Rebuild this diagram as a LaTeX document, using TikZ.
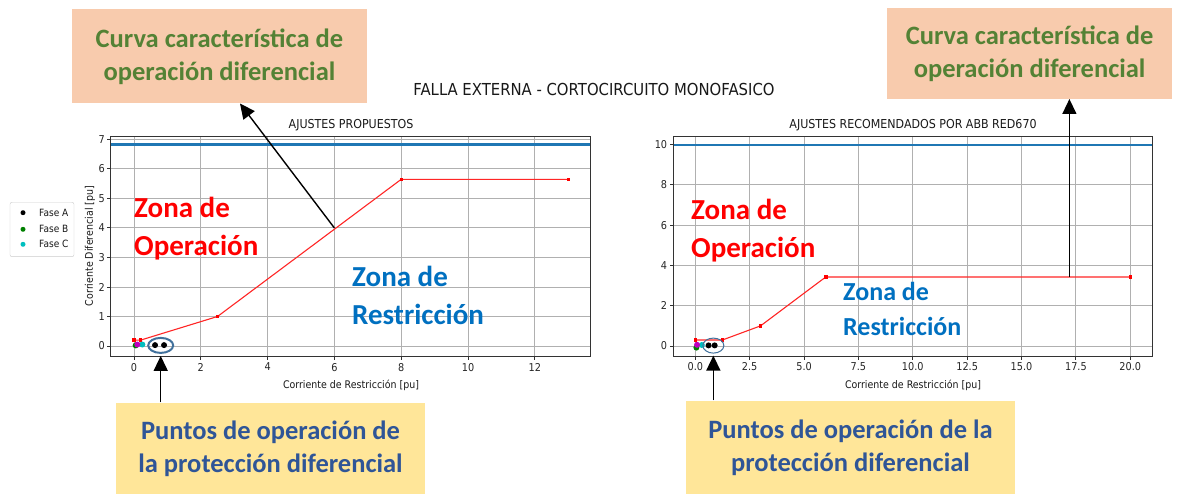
\documentclass[tikz,border=0pt]{standalone}
\usepackage{fontspec}
\usetikzlibrary{arrows.meta,calc,shapes.geometric}
\newfontfamily\mplfont[FakeStretch=0.9]{DejaVu Sans}
\newfontfamily\califont{Carlito}
\definecolor{peach}{HTML}{F8CBAD}
\definecolor{ylw}{HTML}{FFE699}
\definecolor{grn}{HTML}{548235}
\definecolor{dkblue}{HTML}{2F5597}
\definecolor{zblue}{HTML}{0070C0}
\definecolor{mplblue}{HTML}{1F77B4}
\definecolor{ellc}{HTML}{41719C}
\definecolor{gridc}{HTML}{B0B0B0}
\definecolor{mplmag}{HTML}{BF00BF}
\definecolor{mplcyan}{HTML}{00BFBF}
\definecolor{mplgreen}{HTML}{008000}
\begin{document}
\begin{tikzpicture}[x=1pt,y=-1pt,
  gridl/.style={draw=gridc, line width=1pt},
  framel/.style={draw=black!80, line width=1pt},
  ticklbl/.style={font=\mplfont\fontsize{10.8}{12}\selectfont, inner sep=0pt, text=black!85},
  mpltext/.style={font=\mplfont\fontsize{#1}{#1}\selectfont, inner sep=0pt, text=black!90},
  callout/.style={font=\califont\bfseries\fontsize{26.5}{33}\selectfont, align=center, inner sep=0pt},
  zone/.style={font=\califont\bfseries\fontsize{#1}{38}\selectfont, align=left, inner sep=0pt, anchor=west},
  bigarrow/.style={line width=1.4pt, -{Triangle[length=15pt,width=14pt]}},
  curvel/.style={draw=red!85, line width=1.1pt},
  bluel/.style={draw=mplblue, line width=2.2pt}]
\useasboundingbox (0,0) rectangle (1177,494);
\fill[white] (0,0) rectangle (1177,494);

% callout boxes
\node[callout, fill=peach, text=grn, minimum width=295pt, minimum height=94pt] (ob1) at (219.5,56.3) {Curva característica de\\operación diferencial};
\node[callout, fill=peach, text=grn, minimum width=285pt, minimum height=91pt] (ob2) at (1029.6,53.3) {Curva característica de\\operación diferencial};
\node[callout, fill=ylw, text=dkblue, minimum width=309pt, minimum height=91.3pt] (yb1) at (270.5,448.3) {Puntos de operación de\\la protección diferencial};
\node[callout, fill=ylw, text=dkblue, minimum width=329pt, minimum height=93.3pt] (yb2) at (850.5,447.3) {Puntos de operación de la\\protección diferencial};

% titles
\node[mpltext=16.5] (ttl) at (594,89) {FALLA EXTERNA - CORTOCIRCUITO MONOFASICO};
\node[mpltext=12.3] (st1) at (351,125) {AJUSTES PROPUESTOS};
\node[mpltext=12.3] (st2) at (913,125) {AJUSTES RECOMENDADOS POR ABB RED670};
\node[mpltext=10.5] (xl1) at (351,385) {Corriente de Restricción [pu]};
\node[mpltext=10.5] (xl2) at (913,385) {Corriente de Restricción [pu]};
\node[mpltext=10.5, rotate=90] (yl1) at (90,246) {Corriente Diferencial [pu]};

% ---------- left plot ----------
\begin{scope}[shift={(134pt,-346pt)}, x=33.4pt, y=29.5pt]
  \foreach \u in {0,2,...,12} \draw[gridl] (\u,-0.37) -- (\u,7.11);
  \foreach \v in {0,...,7} \draw[gridl] (-0.69,\v) -- (13.68,\v);
  \draw[bluel] (-0.69,6.83) -- (13.68,6.83);
  \draw[curvel] (0,0.2) -- (0.2,0.2) -- (2.5,1) -- (8,5.65) -- (13,5.65);
  \foreach \a/\b in {0/0.2,0.2/0.2,2.5/1,8/5.65,13/5.65}
    \fill[red] (\a,\b) ++(-1.7pt,-1.7pt) rectangle ++(3.4pt,3.4pt);
  \fill[mplgreen] (0.05,0.02) circle (3pt);
  \fill[mplcyan] (0.25,0.05) circle (3pt);
  \fill[mplmag] (0.1,0.05) circle (3pt);
  \fill[black] (0.63,0.03) circle (3pt);
  \fill[black] (0.9,0.03) circle (3pt);
  \draw[framel] (-0.69,-0.37) rectangle (13.68,7.11);
  \foreach \u [count=\i] in {0,2,...,12} {
    \draw[framel] (\u,-0.37) -- ++(0,-3.5pt);
    \node[ticklbl, anchor=north] (lxt\i) at ([yshift=-6pt]\u,-0.37) {\u};
  }
  \foreach \v [count=\i] in {0,...,7} {
    \draw[framel] (-0.69,\v) -- ++(-3.5pt,0);
    \node[ticklbl, anchor=east] (lyt\i) at ([xshift=-6pt]-0.69,\v) {\v};
  }
  \node[ellipse, draw=ellc, line width=2pt, minimum width=25pt, minimum height=15pt, inner sep=0pt] (Lell) at (0.8,0.02) {};
  \coordinate (Lop) at (6,4);
\end{scope}

% ---------- right plot ----------
\begin{scope}[shift={(695.3pt,-346pt)}, x=21.75pt, y=20.13pt]
  \foreach \u in {0,2.5,...,20} \draw[gridl] (\u,-0.53) -- (\u,10.43);
  \foreach \v in {0,2,...,10} \draw[gridl] (-1.01,\v) -- (21.01,\v);
  \draw[bluel] (-1.01,10) -- (21.01,10);
  \draw[curvel] (0,0.3) -- (1.25,0.3) -- (3,1) -- (6,3.43) -- (20,3.43);
  \foreach \a/\b in {0/0.3,1.25/0.3,3/1,6/3.43,20/3.43}
    \fill[red] (\a,\b) ++(-1.7pt,-1.7pt) rectangle ++(3.4pt,3.4pt);
  \fill[mplgreen] (0.05,-0.08) circle (3pt);
  \fill[mplcyan] (0.3,0.05) circle (3pt);
  \fill[mplmag] (0.08,0.06) circle (3pt);
  \fill[black] (0.61,0.03) circle (3pt);
  \fill[black] (0.89,0.03) circle (3pt);
  \draw[framel] (-1.01,-0.53) rectangle (21.01,10.43);
  \foreach \u/\l [count=\i] in {0/0.0,2.5/2.5,5/5.0,7.5/7.5,10/10.0,12.5/12.5,15/15.0,17.5/17.5,20/20.0} {
    \draw[framel] (\u,-0.53) -- ++(0,-3.5pt);
    \node[ticklbl, anchor=north] (rxt\i) at ([yshift=-6pt]\u,-0.53) {\l};
  }
  \foreach \v [count=\i] in {0,2,...,10} {
    \draw[framel] (-1.01,\v) -- ++(-3.5pt,0);
    \node[ticklbl, anchor=east] (ryt\i) at ([xshift=-6pt]-1.01,\v) {\v};
  }
  \node[ellipse, draw=ellc, line width=1pt, minimum width=21pt, minimum height=15pt, inner sep=0pt] (Rell) at (0.83,0.02) {};
  \coordinate (Rop) at (17.2,3.43);
\end{scope}

% legend
\node[draw=black!20, rounded corners=2pt, fill=white, minimum width=64pt, minimum height=54.4pt, inner sep=0pt] (leg) at (42,229.5) {};
\fill[black] (23,212.7) circle (2.5pt);
\fill[mplgreen] (23,229.3) circle (2.5pt);
\fill[mplcyan] (23,244.3) circle (2.5pt);
\node[mpltext=10, anchor=west] (legA) at (39,212.7) {Fase A};
\node[mpltext=10, anchor=west] (legB) at (39,229.3) {Fase B};
\node[mpltext=10, anchor=west] (legC) at (39,244.3) {Fase C};

% zone labels
\node[zone=29, text=red] (zop1) at (134,229) {Zona de\\Operación};
\node[zone=29, text=zblue] (zre1) at (352,295) {Zona de\\Restricción};
\node[zone=29, text=red] (zop2) at (691,230.5) {Zona de\\Operación};
\node[zone=26, text=zblue, font=\califont\bfseries\fontsize{26}{35}\selectfont] (zre2) at (843,309) {Zona de\\Restricción};

% arrows
\draw[bigarrow] (Lop) -- ($(ob1.south)+(20.5,0)$);
\draw[bigarrow] (Rop) -- (Rop |- ob2.south);
\draw[bigarrow] (yb1.north -| Lell) -- ([yshift=-2pt]Lell.south);
\draw[bigarrow] (yb2.north -| Rell) -- ([yshift=-2pt]Rell.south);
\end{tikzpicture}
\end{document}
